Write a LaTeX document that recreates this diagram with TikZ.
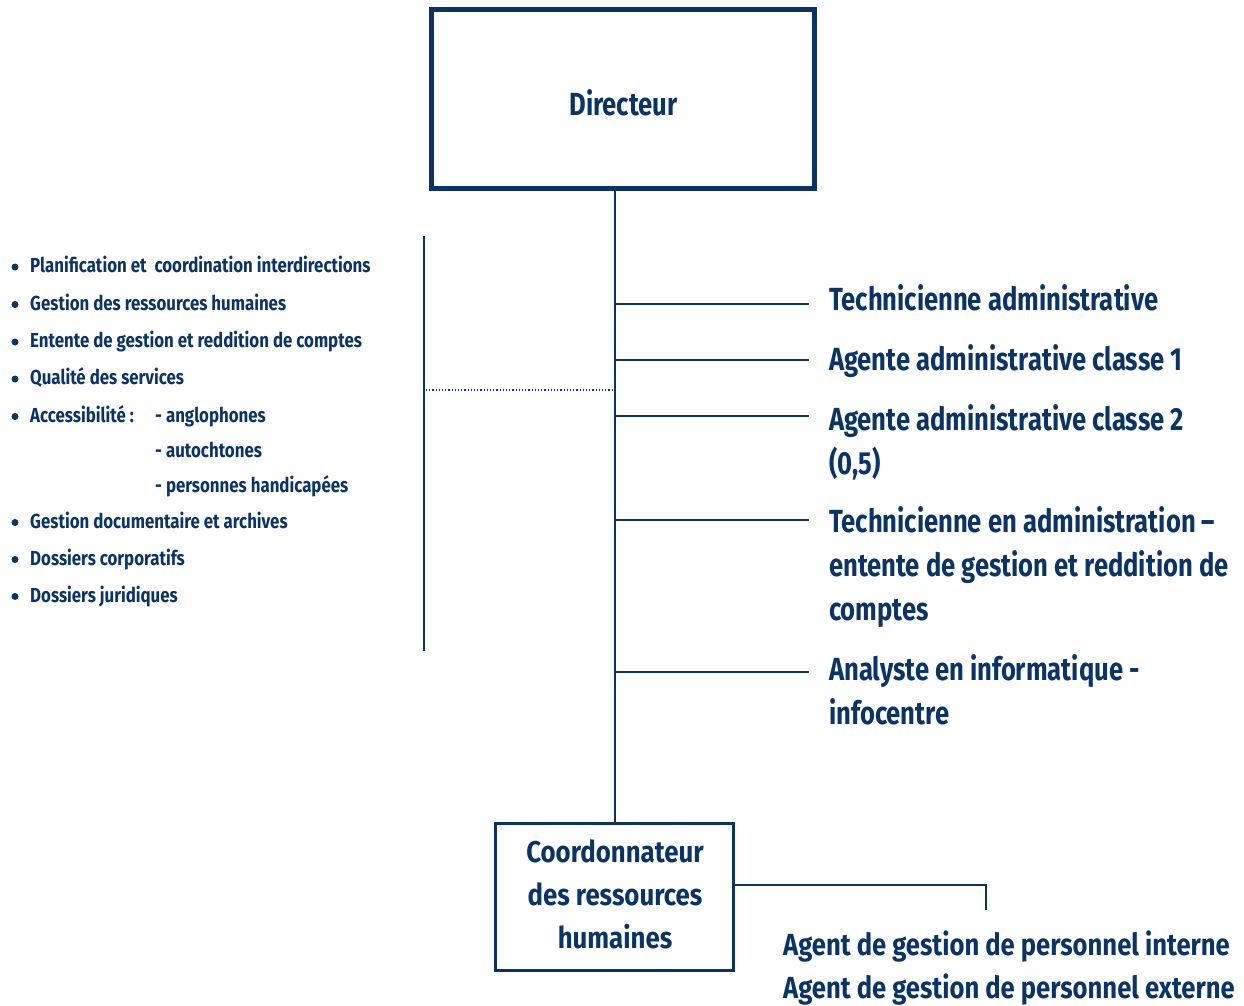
\documentclass[tikz,border=0pt]{standalone}
\usepackage{fontspec}
\setmainfont{Fira Sans}[FakeStretch=0.80]
\newfontfamily\rolefont{Fira Sans}[FakeStretch=0.80]
\newfontfamily\agentfont{Fira Sans}[FakeStretch=0.84]
\newfontfamily\coordfont{Fira Sans}[FakeStretch=0.86]
\newfontfamily\listfont{Fira Sans}[FakeStretch=0.83]
\definecolor{navy}{RGB}{10,52,102}
\tikzset{
  link/.style={draw=navy, line width=1.6pt},
  roletxt/.style={text=navy, anchor=base west, inner sep=0pt, font=\rolefont\bfseries\fontsize{32}{44}\selectfont},
  agenttxt/.style={text=navy, anchor=base west, inner sep=0pt, font=\agentfont\bfseries\fontsize{30.5}{43}\selectfont},
  listtxt/.style={text=navy, anchor=base west, inner sep=0pt, font=\listfont\bfseries\fontsize{20.3}{24}\selectfont},
  coordtext/.style={text=navy, anchor=base, inner sep=0pt, font=\coordfont\bfseries\fontsize{30}{43}\selectfont},
  dot/.style={circle, fill=navy, inner sep=0pt, minimum size=7pt},
  frame/.style={draw=navy, inner sep=0pt}
}
\begin{document}
\begin{tikzpicture}[x=1pt,y=-1pt]
\useasboundingbox (0,0) rectangle (1244,1005);
% director box
\node[frame, line width=5pt, minimum width=383pt, minimum height=179pt] (dir) at (623,99) {};
\node[text=navy, anchor=base, inner sep=0pt, font=\rolefont\bfseries\fontsize{32}{36}\selectfont] (dirtxt) at (623.5,115) {Directeur};
% HR coordinator box
\node[frame, line width=3pt, minimum width=238pt, minimum height=147pt] (coord) at (614.5,897) {};
\node[coordtext] (ct1) at (615,862) {Coordonnateur};
\node[coordtext] (ct2) at (615,905) {des ressources};
\node[coordtext] (ct3) at (615,948) {humaines};
% main trunk
\coordinate (trunktop) at (dir.south -| 615,0);
\coordinate (trunkbot) at (coord.north -| 615,0);
\draw[link] (trunktop) -- (trunkbot);
% branches to the staff positions
\foreach \y/\n in {304/a,360/b,416/c,520/d,672/e}{
  \coordinate (s\n) at (615,\y);
  \coordinate (t\n) at (809,\y);
  \draw[link] (s\n) -- (t\n);
}
\node[roletxt] (la) at (829,310) {Technicienne administrative};
\node[roletxt] (lb) at (829,370) {Agente administrative classe 1};
\node[roletxt] (lc1) at (829,430) {Agente administrative classe 2};
\node[roletxt] (lc2) at (829,474) {(0,5)};
\node[roletxt] (ld1) at (829,532) {Technicienne en administration –};
\node[roletxt] (ld2) at (829,576) {entente de gestion et reddition de};
\node[roletxt] (ld3) at (829,620) {comptes};
\node[roletxt] (le1) at (829,680) {Analyste en informatique -};
\node[roletxt] (le2) at (829,724) {infocentre};
% staff of the coordinator
\coordinate (cr) at (coord.east |- 0,885);
\coordinate (cd) at (986,885);
\coordinate (ce) at (986,910);
\draw[link] (cr) -- (cd) -- (ce);
\node[agenttxt] (g1) at (783,955) {Agent de gestion de personnel interne};
\node[agenttxt] (g2) at (783,998) {Agent de gestion de personnel externe};
% responsibilities list
\coordinate (vt) at (424,236);
\coordinate (vb) at (424,651);
\draw[link] (vt) -- (vb);
\coordinate (dl) at (426,390);
\coordinate (dr) at (613,390);
\draw[draw=navy, line width=1.2pt, dotted] (dl) -- (dr);
\foreach \y/\n in {272.5/1,310/2,347.5/3,384.5/4,422/5,528/6,565/7,602/8}{
  \node[dot] (b\n) at (15,\y-5.5) {};
}
\node[listtxt] (p1) at (30,272.5) {Planification et\ \ coordination interdirections};
\node[listtxt] (p2) at (30,310) {Gestion des ressources humaines};
\node[listtxt] (p3) at (30,347.5) {Entente de gestion et reddition de comptes};
\node[listtxt] (p4) at (30,384.5) {Qualité des services};
\node[listtxt] (p5) at (30,422) {Accessibilité :};
\node[listtxt] (q1) at (155,422) {- anglophones};
\node[listtxt] (q2) at (155,457) {- autochtones};
\node[listtxt] (q3) at (155,492) {- personnes handicapées};
\node[listtxt] (p6) at (30,528) {Gestion documentaire et archives};
\node[listtxt] (p7) at (30,565) {Dossiers corporatifs};
\node[listtxt] (p8) at (30,602) {Dossiers juridiques};
\end{tikzpicture}
\end{document}
